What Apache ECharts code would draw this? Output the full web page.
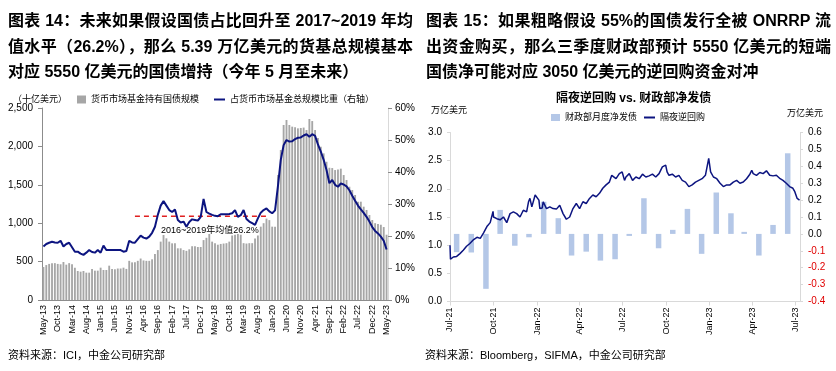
<!DOCTYPE html>
<html><head><meta charset="utf-8">
<script src="https://cdn.jsdelivr.net/npm/echarts@6/dist/echarts.min.js"></script>
<style>
html,body{margin:0;padding:0;background:#fff;}
#wrap{position:relative;width:836px;height:371px;overflow:hidden;}
#chart{position:absolute;left:0;top:0;width:836px;height:371px;}
.ttl{position:absolute;width:405px;font-family:'Liberation Sans','Noto Sans CJK SC',sans-serif;font-weight:bold;font-size:16px;color:#000;}
.ttl div{height:25.5px;line-height:25.5px;}
.ttl .j{text-align:justify;text-align-last:justify;}
</style></head>
<body>
<div id="wrap">
<div id="chart"></div>
<div class="ttl" style="left:8px;top:8px;">
<div class="j">图表 14：未来如果假设国债占比回升至 2017~2019 年均</div>
<div class="j">值水平（26.2%），那么 5.39 万亿美元的货基总规模基本</div>
<div>对应 5550 亿美元的国债增持（今年 5 月至未来）</div>
</div>
<div class="ttl" style="left:426px;top:8px;">
<div class="j">图表 15：如果粗略假设 55%的国债发行全被 ONRRP 流</div>
<div class="j">出资金购买，那么三季度财政部预计 5550 亿美元的短端</div>
<div>国债净可能对应 3050 亿美元的逆回购资金对冲</div>
</div>
</div>
<script>
// ---------------- Left chart data (monthly, May-13 .. May-23) ----------------
const leftStartYear = 2013, leftStartMonth = 5, leftMonthCount = 121;
const mmfTreasury = [ // 十亿美元
 430,455,470,478,480,470,465,495,460,480,
 465,420,378,369,378,356,356,404,382,382,
 421,391,391,447,404,400,410,410,421,405,
 510,490,490,510,540,515,510,510,530,600,
 650,760,846,803,760,738,738,673,673,650,
 640,660,700,700,690,690,780,810,860,760,
 740,720,730,735,740,760,840,850,860,850,
 740,735,740,740,800,840,955,1000,1060,1040,
 955,955,1627,1953,2279,2344,2279,2257,2250,2235,
 2240,2245,2213,2357,2330,2213,2110,1996,1909,1800,
 1722,1718,1692,1700,1710,1627,1562,1475,1432,1367,
 1280,1280,1215,1172,1107,1042,1000,990,980,950,
 850
];
const treasuryShare = [ // %
 16.7,17.5,17.9,18.2,18.0,17.9,18.5,16.7,17.5,17.9,
 16.5,15.1,15.1,14.5,14.1,14.8,15.6,15.0,14.8,15.6,
 14.8,17.0,15.6,15.6,15.6,15.6,15.6,15.6,15.1,15.3,
 18.5,18.0,17.9,19.0,20.1,19.5,19.2,19.8,21.0,22.9,
 26.6,29.5,30.9,29.5,28.1,27.5,28.3,25.0,24.2,24.5,
 22.9,24.4,25.2,25.0,24.8,26.0,31.6,27.5,27.0,26.6,
 26.3,26.2,26.8,26.8,26.8,26.9,27.1,28.1,26.0,26.5,
 28.1,25.3,24.5,24.0,23.5,25.5,27.3,28.1,28.6,27.7,
 27.1,28.0,35.5,43.8,48.4,50.0,49.5,49.6,50.3,50.7,
 50.8,51.4,51.8,51.0,51.8,51.3,48.6,46.4,43.8,40.6,
 36.5,37.5,36.0,35.4,36.4,36.1,35.5,34.3,32.6,31.0,
 29.5,28.3,27.2,26.0,24.5,22.8,21.6,20.8,19.8,18.5,
 15.8
];
const avgFrom = 'Jan-16', avgTo = 'Dec-19', avgShare = 26.2;
const leftYTicks = [0, 500, 1000, 1500, 2000, 2500];
const rightYTicks = [0, 10, 20, 30, 40, 50, 60];

// ---------------- Right chart data ----------------
const rrpDates = [
 '2021-07-01','2021-07-02','2021-07-08','2021-07-15','2021-07-22','2021-07-29','2021-08-05','2021-08-12','2021-08-20','2021-08-27',
 '2021-09-03','2021-09-10','2021-09-17','2021-09-24','2021-09-30','2021-10-01','2021-10-08','2021-10-15','2021-10-22','2021-10-29',
 '2021-11-05','2021-11-12','2021-11-19','2021-11-26','2021-12-03','2021-12-10','2021-12-14','2021-12-17','2021-12-21','2021-12-23',
 '2021-12-28','2021-12-31','2022-01-05','2022-01-07','2022-01-12','2022-01-14','2022-01-21','2022-01-28','2022-02-04','2022-02-11',
 '2022-02-18','2022-02-25','2022-03-04','2022-03-11','2022-03-18','2022-03-25','2022-04-01','2022-04-08','2022-04-15','2022-04-22',
 '2022-04-29','2022-05-06','2022-05-13','2022-05-20','2022-05-27','2022-06-03','2022-06-08','2022-06-10','2022-06-17','2022-06-24',
 '2022-06-30','2022-07-05','2022-07-08','2022-07-15','2022-07-22','2022-07-29','2022-08-05','2022-08-12','2022-08-19','2022-08-26',
 '2022-09-02','2022-09-09','2022-09-16','2022-09-23','2022-09-30','2022-10-03','2022-10-07','2022-10-14','2022-10-21','2022-10-28',
 '2022-11-04','2022-11-11','2022-11-18','2022-11-25','2022-12-02','2022-12-09','2022-12-16','2022-12-23','2022-12-30','2023-01-03',
 '2023-01-09','2023-01-16','2023-01-23','2023-01-30','2023-02-06','2023-02-13','2023-02-20','2023-02-27','2023-03-06','2023-03-13',
 '2023-03-20','2023-03-27','2023-03-31','2023-04-03','2023-04-10','2023-04-17','2023-04-24','2023-05-01','2023-05-08','2023-05-15',
 '2023-05-22','2023-05-30','2023-06-05','2023-06-12','2023-06-19','2023-06-26','2023-06-30','2023-07-05','2023-07-10'
];
const rrpValues = [ // 万亿美元
 1.00,0.75,0.79,0.80,0.85,0.91,0.98,1.03,1.10,1.14,
 1.12,1.22,1.33,1.40,1.60,1.50,1.47,1.45,1.50,1.40,
 1.56,1.59,1.56,1.50,1.62,1.59,1.77,1.83,1.68,1.71,
 1.89,1.92,1.80,1.65,1.66,1.77,1.65,1.68,1.65,1.64,
 1.71,1.56,1.46,1.50,1.65,1.74,1.65,1.77,1.74,1.83,
 1.89,1.86,1.92,2.01,2.07,2.12,2.24,2.26,2.18,2.27,
 2.30,2.15,2.21,2.27,2.15,2.21,2.18,2.26,2.21,2.23,
 2.26,2.21,2.27,2.39,2.42,2.30,2.24,2.26,2.21,2.24,
 2.15,2.12,2.04,2.07,2.12,2.15,2.18,2.24,2.54,2.30,
 2.21,2.18,2.10,2.04,2.07,2.07,2.12,2.15,2.10,2.12,
 2.18,2.26,2.33,2.27,2.24,2.29,2.27,2.32,2.24,2.23,
 2.24,2.18,2.15,2.10,2.04,2.01,1.95,1.83,1.80
];
const issueMonths = ['2021-07','2021-08','2021-09','2021-10','2021-11','2021-12','2022-01','2022-02','2022-03','2022-04','2022-05','2022-06',
 '2022-07','2022-08','2022-09','2022-10','2022-11','2022-12','2023-01','2023-02','2023-03','2023-04','2023-05','2023-06'];
const issueValues = [ // 万亿美元
 -0.108,-0.11,-0.325,0.142,-0.07,-0.02,0.19,0.093,-0.128,-0.105,-0.158,-0.15,
 -0.012,0.211,-0.085,0.024,0.148,-0.118,0.245,0.122,0.012,-0.128,0.053,0.477];
const rightAxisStart = '2021-07-01', rightAxisEnd = '2023-07-11';

// ---------------- build ----------------
const MON = ['Jan','Feb','Mar','Apr','May','Jun','Jul','Aug','Sep','Oct','Nov','Dec'];
const leftMonths = [];
for (let k = 0; k < leftMonthCount; k++) {
  const m0 = leftStartMonth - 1 + k;
  const y = leftStartYear + Math.floor(m0 / 12), m = m0 % 12;
  leftMonths.push(MON[m] + '-' + String(y % 100).padStart(2, '0'));
}
const iFrom = leftMonths.indexOf(avgFrom), iTo = leftMonths.indexOf(avgTo);
const avgLine = leftMonths.map((c, k) => (k >= iFrom && k <= iTo) ? avgShare : null);

const dayCats = [];
{
  const p = s => s.split('-').map(Number);
  const [y0, m0, d0] = p(rightAxisStart), [y1, m1, d1] = p(rightAxisEnd);
  let t = Date.UTC(y0, m0 - 1, d0); const tEnd = Date.UTC(y1, m1 - 1, d1);
  while (t <= tEnd) { dayCats.push(new Date(t).toISOString().slice(0, 10)); t += 86400000; }
}
const dayIdx = {}; dayCats.forEach((d, k) => dayIdx[d] = k);
const rrpData = rrpDates.map((d, k) => [dayIdx[d], rrpValues[k]]);
const issueData = issueMonths.map((m, k) => [dayIdx[m + '-15'], issueValues[k]]);
const isQuarterStart = (idx, val) => /-(01|04|07|10)-01$/.test(val);
const fmtDay = v => MON[Number(v.slice(5, 7)) - 1] + '-' + v.slice(2, 4);

const FONT = "'Liberation Sans','Noto Sans CJK SC',sans-serif";
const GRAY_BAR = '#a6a6a6', NAVY = '#0c1480', LIGHT_BLUE = '#b4c7e7';
const axisGray = '#8c8c8c', axisLight = '#d9d9d9';

const chart = echarts.init(document.getElementById('chart'), null, {renderer: 'canvas', width: 836, height: 371});
chart.setOption({
  animation: false,
  textStyle: {fontFamily: FONT},
  grid: [
    {left: 42, top: 108, width: 346, height: 192},
    {left: 450, top: 132.5, width: 350, height: 169}
  ],
  legend: [
    {data: ['货币市场基金持有国债规模'], left: 77, top: 95, padding: 0, icon: 'rect', itemWidth: 9, itemHeight: 8,
     textStyle: {fontSize: 9, color: '#000', fontFamily: FONT}},
    {data: ['占货币市场基金总规模比重（右轴）'], left: 214, top: 95, padding: 0, icon: 'rect', itemWidth: 11, itemHeight: 2,
     textStyle: {fontSize: 9, color: '#000', fontFamily: FONT}},
    {data: ['财政部月度净发债'], left: 551, top: 113, padding: 0, icon: 'rect', itemWidth: 9, itemHeight: 7,
     textStyle: {fontSize: 9, color: '#000', fontFamily: FONT}},
    {data: ['隔夜逆回购'], left: 644, top: 113, padding: 0, icon: 'rect', itemWidth: 11, itemHeight: 2,
     textStyle: {fontSize: 9, color: '#000', fontFamily: FONT}}
  ],
  xAxis: [
    {type: 'category', gridIndex: 0, data: leftMonths, boundaryGap: true,
     axisLine: {lineStyle: {color: axisGray, width: 1}}, axisTick: {show: false},
     axisLabel: {rotate: 90, interval: 4, fontSize: 9, color: '#000', margin: 5}},
    {type: 'category', gridIndex: 1, data: dayCats, boundaryGap: false,
     axisLine: {lineStyle: {color: axisLight, width: 1}},
     axisTick: {show: true, interval: isQuarterStart, length: 4, lineStyle: {color: axisLight}},
     axisLabel: {rotate: 90, interval: isQuarterStart, formatter: fmtDay, fontSize: 9, color: '#000', margin: 6}}
  ],
  yAxis: [
    {type: 'value', gridIndex: 0, min: leftYTicks[0], max: leftYTicks[leftYTicks.length - 1], interval: leftYTicks[1] - leftYTicks[0],
     axisLine: {show: true, lineStyle: {color: axisGray}}, axisTick: {show: true, length: 4, lineStyle: {color: axisGray}},
     splitLine: {show: false},
     axisLabel: {fontSize: 10, color: '#000', margin: 9, formatter: v => v.toLocaleString('en-US')}},
    {type: 'value', gridIndex: 0, position: 'right', min: rightYTicks[0], max: rightYTicks[rightYTicks.length - 1], interval: rightYTicks[1] - rightYTicks[0],
     axisLine: {show: true, lineStyle: {color: axisLight}}, axisTick: {show: true, length: 4, lineStyle: {color: axisGray}},
     splitLine: {show: false},
     axisLabel: {fontSize: 10, color: '#000', margin: 7, formatter: '{value}%'}},
    {type: 'value', gridIndex: 1, min: 0, max: 3, interval: 0.5,
     axisLine: {show: true, lineStyle: {color: axisLight}}, axisTick: {show: true, length: 3, lineStyle: {color: axisLight}},
     splitLine: {show: false},
     axisLabel: {fontSize: 10, color: '#000', margin: 8, formatter: v => (Math.round(v * 10) / 10).toFixed(1)}},
    {type: 'value', gridIndex: 1, position: 'right', min: -0.4, max: 0.6, interval: 0.1,
     axisLine: {show: true, lineStyle: {color: axisLight}}, axisTick: {show: true, length: 3, lineStyle: {color: axisLight}},
     splitLine: {show: false},
     axisLabel: {fontSize: 10, margin: 8, formatter: v => (Math.round(v * 10) / 10).toFixed(1),
       color: v => (v < -1e-9 ? '#e00000' : '#000')}}
  ],
  series: [
    {name: '货币市场基金持有国债规模', type: 'bar', xAxisIndex: 0, yAxisIndex: 0, data: mmfTreasury,
     barCategoryGap: '35%', itemStyle: {color: GRAY_BAR}, z: 1},
    {name: '2016~2019年均值', type: 'line', xAxisIndex: 0, yAxisIndex: 1, data: avgLine, symbol: 'none',
     lineStyle: {color: '#e02020', width: 1.5, type: [5, 4]}, z: 3},
    {name: '占货币市场基金总规模比重（右轴）', type: 'line', xAxisIndex: 0, yAxisIndex: 1, data: treasuryShare,
     symbol: 'none', itemStyle: {color: NAVY}, lineStyle: {color: NAVY, width: 2}, z: 4},
    {name: '财政部月度净发债', type: 'bar', xAxisIndex: 1, yAxisIndex: 3, data: issueData, barWidth: 5.5,
     itemStyle: {color: LIGHT_BLUE}, z: 1},
    {name: '隔夜逆回购', type: 'line', xAxisIndex: 1, yAxisIndex: 2, data: rrpData, symbol: 'none',
     itemStyle: {color: NAVY}, lineStyle: {color: NAVY, width: 1.5}, z: 4}
  ],
  graphic: [
    {type: 'text', left: 13, top: 95, style: {text: '（十亿美元）', font: '9px ' + FONT, fill: '#000'}},
    {type: 'text', left: 161, top: 226, style: {text: '2016~2019年均值26.2%', font: '9px ' + FONT, fill: '#000'}},
    {type: 'text', left: 556, top: 93, style: {text: '隔夜逆回购 vs. 财政部净发债', font: 'bold 12px ' + FONT, fill: '#000'}},
    {type: 'text', left: 431, top: 106, style: {text: '万亿美元', font: '9px ' + FONT, fill: '#000'}},
    {type: 'text', left: 787, top: 109, style: {text: '万亿美元', font: '9px ' + FONT, fill: '#000'}},
    {type: 'text', left: 8, top: 350, style: {text: '资料来源：ICI，中金公司研究部', font: '11px ' + FONT, fill: '#000'}},
    {type: 'text', left: 425, top: 350, style: {text: '资料来源：Bloomberg，SIFMA，中金公司研究部', font: '11px ' + FONT, fill: '#000'}}
  ]
});
</script>
</body></html>
